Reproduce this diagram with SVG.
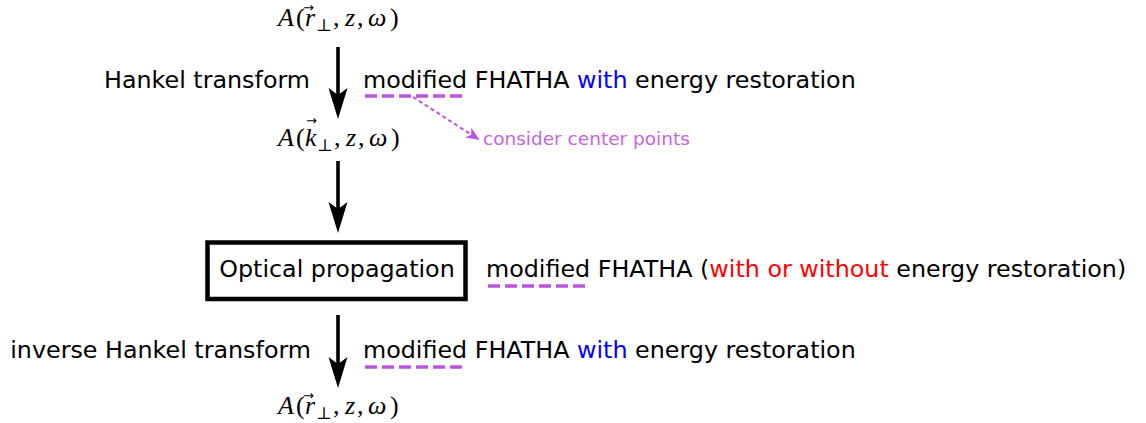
<svg xmlns="http://www.w3.org/2000/svg" width="1146" height="423" viewBox="0 0 1146 423">
<defs>
<style>
.t{font-family:"DejaVu Sans",Verdana,sans-serif;font-size:23.8px;fill:#000}
.m{font-family:"Liberation Serif","Times New Roman",serif;font-size:26px;fill:#000}
.i{font-style:italic}
.sub{font-size:17px;font-family:"DejaVu Serif",serif}
.vec{font-family:"DejaVu Sans",sans-serif;font-size:13px;fill:#000}
.blue{fill:#0000FF}
.red{fill:#FF0000}
.note{font-family:"DejaVu Sans",Verdana,sans-serif;font-size:18.5px;fill:#C466E0}
.ul{stroke:#BB55DD;stroke-width:3.5;stroke-dasharray:12 5;fill:none}
.arr{stroke:#000;stroke-width:3.6;fill:none}
.head{fill:#000}
</style>
<marker id="ph" markerWidth="14" markerHeight="12" refX="12" refY="6" orient="auto" markerUnits="userSpaceOnUse" viewBox="0 0 14 12">
<path d="M0,0 L14,6 L0,12 L4,6 Z" fill="#BB55DD"/>
</marker>
</defs>

<g id="formula-top">
<text class="m" y="26"><tspan x="278" class="i">A</tspan><tspan x="296">(</tspan><tspan x="305" class="i">r</tspan><tspan x="316" dy="5" class="sub">⊥</tspan><tspan x="333" dy="-5">,</tspan><tspan x="345" class="i">z</tspan><tspan x="357">,</tspan><tspan x="368" class="i">ω</tspan><tspan x="390">)</tspan></text>
<text class="vec" x="303" y="12">→</text>
</g>

<g id="formula-mid">
<text class="m" y="146"><tspan x="278" class="i">A</tspan><tspan x="296">(</tspan><tspan x="305" class="i">k</tspan><tspan x="317" dy="5" class="sub">⊥</tspan><tspan x="334" dy="-5">,</tspan><tspan x="346" class="i">z</tspan><tspan x="358">,</tspan><tspan x="369" class="i">ω</tspan><tspan x="391">)</tspan></text>
<text class="vec" x="306" y="125">→</text>
</g>

<g id="formula-bottom">
<text class="m" y="414"><tspan x="278" class="i">A</tspan><tspan x="296">(</tspan><tspan x="305" class="i">r</tspan><tspan x="316" dy="5" class="sub">⊥</tspan><tspan x="333" dy="-5">,</tspan><tspan x="345" class="i">z</tspan><tspan x="357">,</tspan><tspan x="368" class="i">ω</tspan><tspan x="390">)</tspan></text>
<text class="vec" x="303" y="400">→</text>
</g>

<g id="box-optical">
<rect x="207.5" y="242.5" width="258" height="56.5" fill="#fff" stroke="#000" stroke-width="4.5"/>
<text class="t" x="337" y="277" text-anchor="middle">Optical propagation</text>
</g>

<g id="label-hankel">
<text class="t" x="310" y="88" text-anchor="end">Hankel transform</text>
</g>
<g id="label-inverse">
<text class="t" x="311" y="358" text-anchor="end">inverse Hankel transform</text>
</g>

<g id="method-top">
<text class="t" x="363" y="88">modified FHATHA <tspan class="blue">with</tspan> energy restoration</text>
<line class="ul" x1="365" y1="96" x2="465" y2="96"/>
</g>
<g id="method-mid">
<text class="t" x="486" y="277">modified FHATHA (<tspan class="red">with or without</tspan> energy restoration)</text>
<line class="ul" x1="488" y1="286" x2="588" y2="286"/>
</g>
<g id="method-bottom">
<text class="t" x="363" y="358">modified FHATHA <tspan class="blue">with</tspan> energy restoration</text>
<line class="ul" x1="365" y1="367" x2="465" y2="367"/>
</g>

<g id="note">
<text class="note" x="483" y="145">consider center points</text>
</g>

<g id="connectors">
<line class="arr" x1="338" y1="47" x2="338" y2="96"/>
<path class="head" d="M338,119 L347.5,88 L338,95 L328.5,88 Z"/>
<line class="arr" x1="338" y1="161" x2="338" y2="210"/>
<path class="head" d="M338,233 L347.5,202 L338,209 L328.5,202 Z"/>
<line class="arr" x1="338" y1="315" x2="338" y2="365"/>
<path class="head" d="M338,388 L347.5,357 L338,364 L328.5,357 Z"/>
<line x1="413" y1="97" x2="478" y2="139" stroke="#BB55DD" stroke-width="2" stroke-dasharray="4 3" marker-end="url(#ph)"/>
</g>
</svg>
